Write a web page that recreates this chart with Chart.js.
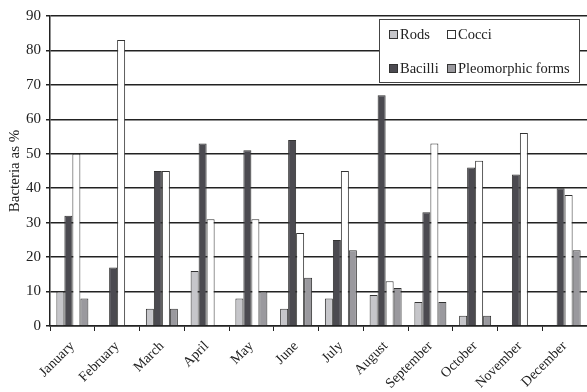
<!DOCTYPE html>
<html>
<head>
<meta charset="utf-8">
<script src="https://cdn.jsdelivr.net/npm/chart.js@4.4.1/dist/chart.umd.min.js"></script>
<style>
  html, body { margin: 0; padding: 0; background: #fff; }
  #wrap { width: 587px; height: 392px; }
</style>
</head>
<body>
<div id="wrap"><canvas id="c" width="587" height="392"></canvas></div>
<script>
// Monthly share of bacterial morphotypes (%)
const months = ['January', 'February', 'March', 'April', 'May', 'June',
                'July', 'August', 'September', 'October', 'November', 'December'];
const rods        = [10, 0, 5, 16, 8, 5, 8, 9, 7, 3, 0, 0];
const bacilli     = [32, 17, 45, 53, 51, 54, 25, 67, 33, 46, 44, 40];
const cocci       = [50, 83, 45, 31, 31, 27, 45, 13, 53, 48, 56, 38];
const pleomorphic = [8, 0, 5, 0, 10, 14, 22, 11, 7, 3, 0, 22];
const yTicks = [0, 10, 20, 30, 40, 50, 60, 70, 80, 90];

const serif = '"Liberation Serif", "Times New Roman", serif';

function series(label, data, color) {
  return {
    label, data,
    backgroundColor: color,
    borderColor: '#333',
    borderWidth: 1,
    borderSkipped: 'start',
    barPercentage: 1,
    categoryPercentage: 0.715
  };
}

// Boxed 2x2 legend in the upper right corner
const boxLegend = {
  id: 'boxLegend',
  afterDraw(chart) {
    const ctx = chart.ctx;
    const x0 = 379, y0 = 19, w = 200, h = 63;
    ctx.save();
    ctx.fillStyle = '#fff';
    ctx.fillRect(x0, y0, w, h);
    ctx.strokeStyle = '#444';
    ctx.lineWidth = 1;
    ctx.strokeRect(x0 + 0.5, y0 + 0.5, w, h);
    const ds = chart.data.datasets;
    // column-major placement: Rods, Bacilli | Cocci, Pleomorphic
    const slots = [[389, 35], [389, 69], [447, 35], [447, 69]];
    ctx.font = '14.5px ' + serif;
    ctx.textBaseline = 'middle';
    ds.forEach((d, i) => {
      const [sx, sy] = slots[i];
      ctx.fillStyle = d.backgroundColor;
      ctx.fillRect(sx, sy - 5, 9, 9);
      ctx.strokeStyle = '#333';
      ctx.strokeRect(sx + 0.5, sy - 4.5, 8, 8);
      ctx.fillStyle = '#222';
      ctx.fillText(d.label, sx + 11, sy);
    });
    ctx.restore();
  }
};

new Chart(document.getElementById('c'), {
  type: 'bar',
  data: {
    labels: months,
    datasets: [
      series('Rods', rods, '#c6c6ca'),
      series('Bacilli', bacilli, '#4b4a50'),
      series('Cocci', cocci, '#ffffff'),
      series('Pleomorphic forms', pleomorphic, '#9a999e')
    ]
  },
  options: {
    responsive: false,
    animation: false,
    layout: { padding: { top: 16, right: 0, left: 0, bottom: 0 } },
    plugins: { legend: { display: false }, tooltip: { enabled: false } },
    scales: {
      x: {
        grid: { offset: true, drawOnChartArea: false, drawTicks: true, tickLength: 5, color: '#222', lineWidth: 1 },
        border: { display: true, color: '#222', width: 1.5 },
        ticks: {
          color: '#222', font: { family: serif, size: 14 },
          maxRotation: 45, minRotation: 45, autoSkip: false, padding: 7
        },
        afterFit(scale) { scale.height = 66; }
      },
      y: {
        min: 0, max: 90,
        afterBuildTicks(scale) { scale.ticks = yTicks.map(v => ({ value: v })); },
        grid: { color: '#222', lineWidth: 1.5, tickLength: 4 },
        border: { display: true, color: '#222', width: 1.5 },
        ticks: { color: '#222', font: { family: serif, size: 15 }, padding: 5 },
        title: { display: true, text: 'Bacteria as %', color: '#222', font: { family: serif, size: 15 }, padding: { top: 6, bottom: 0 } },
        afterFit(scale) { scale.width = 50; }
      }
    }
  },
  plugins: [boxLegend]
});
</script>
</body>
</html>
